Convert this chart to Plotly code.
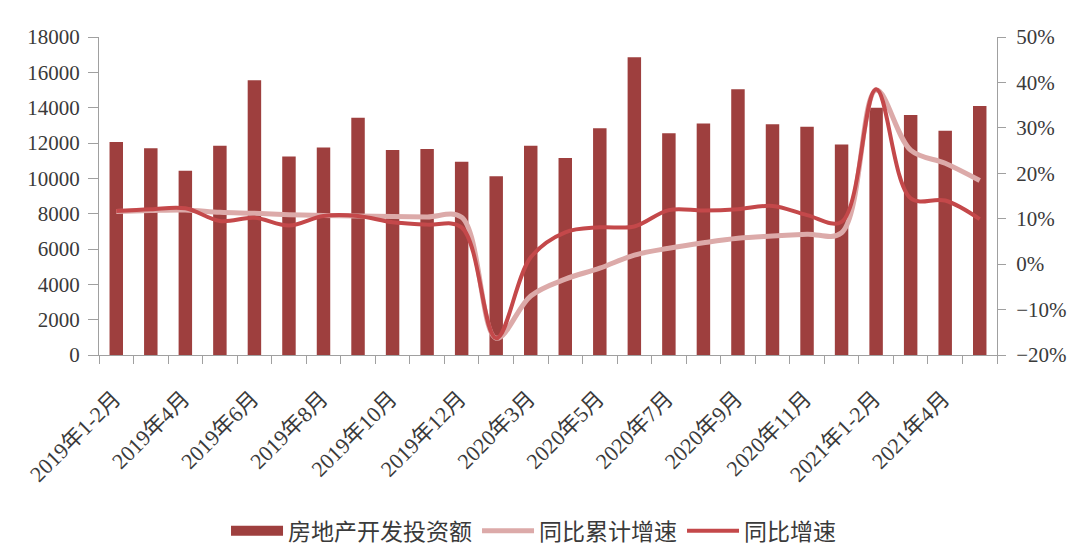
import plotly.graph_objects as go

categories = [
    "2019年1-2月", "2019年3月", "2019年4月", "2019年5月", "2019年6月", "2019年7月",
    "2019年8月", "2019年9月", "2019年10月", "2019年11月", "2019年12月",
    "2020年1-2月", "2020年3月", "2020年4月", "2020年5月", "2020年6月", "2020年7月",
    "2020年8月", "2020年9月", "2020年10月", "2020年11月", "2020年12月",
    "2021年1-2月", "2021年3月", "2021年4月", "2021年5月",
]
investment = [
    12060, 11700, 10430, 11850, 15550, 11240, 11750, 13430, 11600, 11660, 10940,
    10115, 11850, 11150, 12830, 16850, 12550, 13110, 15040, 13060, 12920, 11920,
    14000, 13590, 12700, 14090,
]
cum_growth = [
    11.6, 11.8, 11.9, 11.4, 11.2, 10.9, 10.7, 10.6, 10.5, 10.4, 10.3,
    -16.3, -7.0, -3.3, -0.9, 2.0, 3.5, 4.7, 5.7, 6.2, 6.6, 6.9,
    38.3, 25.1, 22.2, 18.4,
]
mon_growth = [
    11.7, 12.1, 12.3, 9.5, 10.2, 8.5, 10.6, 10.6, 9.2, 8.7, 8.1,
    -16.3, 1.5, 7.0, 8.1, 8.3, 11.9, 11.8, 12.1, 12.8, 10.8, 9.3,
    38.5, 14.5, 14.0, 9.9,
]

BAR = "#9e3f3e"
RED = "#c4484a"
PINK = "#dcaaa9"
AXIS = "#a0a0a0"
TXT = "#3a3a3a"
FONT = "Liberation Serif, Noto Sans CJK SC, serif"

x = list(range(len(categories)))
tick_idx = x[::2]
tick_txt = [categories[i] for i in tick_idx]

fig = go.Figure()
fig.add_trace(go.Bar(
    x=x, y=investment, name="房地产开发投资额", showlegend=False,
    marker=dict(color=BAR, line=dict(width=0)), width=0.39,
))
# legend-only entry drawn as a wide block, like the reference's legend key
fig.add_trace(go.Scatter(
    x=[None], y=[None], mode="lines", name="房地产开发投资额",
    line=dict(color=BAR, width=14), hoverinfo="skip",
))
fig.add_trace(go.Scatter(
    x=x, y=cum_growth, yaxis="y2", mode="lines", name="同比累计增速",
    line=dict(color=PINK, width=5, shape="spline", smoothing=1),
))
fig.add_trace(go.Scatter(
    x=x, y=mon_growth, yaxis="y2", mode="lines", name="同比增速",
    line=dict(color=RED, width=4, shape="spline", smoothing=1),
))

fig.update_layout(
    width=1080, height=557,
    margin=dict(l=99, r=83, t=37, b=202),
    paper_bgcolor="white", plot_bgcolor="white",
    font=dict(family=FONT, size=21, color=TXT),
    bargap=0.6,
    showlegend=True,
    legend=dict(
        orientation="h", xref="container", x=0.494, xanchor="center",
        yref="container", y=0.047, yanchor="middle",
        font=dict(size=23, color=TXT), itemwidth=52, traceorder="normal",
    ),
    xaxis=dict(
        range=[-0.5, len(categories) - 0.5], automargin=False,
        tickmode="array", tickvals=tick_idx, ticktext=tick_txt,
        tickangle=-45, ticks="", showline=True, linecolor=AXIS, linewidth=1,
        showgrid=False, zeroline=False, tickfont=dict(size=22, color=TXT),
        ticklabelstandoff=21, ticklabelshift=-2,
        minor=dict(tick0=-0.5, dtick=1, ticks="outside", ticklen=8,
                   tickcolor=AXIS, tickwidth=1, showgrid=False),
    ),
    yaxis=dict(
        range=[0, 18000], dtick=2000, tickformat="d", automargin=False,
        ticks="outside", ticklen=10, tickcolor=AXIS,
        showline=True, linecolor=AXIS, linewidth=1,
        showgrid=False, zeroline=False, tickfont=dict(size=21, color=TXT),
        ticklabelstandoff=4,
    ),
    yaxis2=dict(
        range=[-20, 50], dtick=10, ticksuffix="%", overlaying="y", side="right",
        automargin=False,
        ticks="outside", ticklen=8, tickcolor=AXIS,
        showline=True, linecolor=AXIS, linewidth=1,
        showgrid=False, zeroline=False, tickfont=dict(size=21, color=TXT),
        ticklabelstandoff=6,
    ),
)

fig.write_html("out.html")
